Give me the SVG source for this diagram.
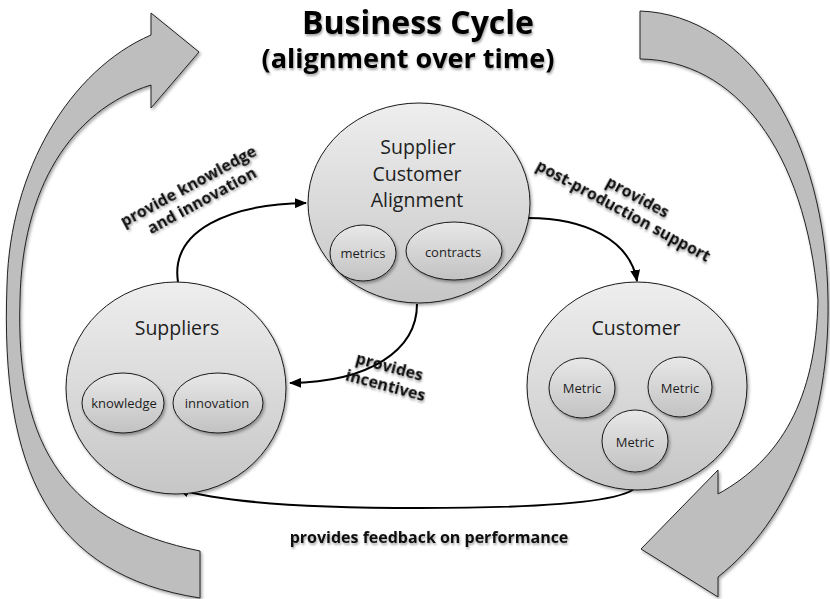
<svg xmlns="http://www.w3.org/2000/svg" width="830" height="599" viewBox="0 0 830 599">
  <defs>
    <linearGradient id="ballFill" x1="0" y1="0" x2="0" y2="1">
      <stop offset="0" stop-color="#eeeeee"/>
      <stop offset="1" stop-color="#c6c6c6"/>
    </linearGradient>
    <linearGradient id="podFill" x1="0" y1="0" x2="0" y2="1">
      <stop offset="0" stop-color="#e8e8e8"/>
      <stop offset="1" stop-color="#c2c2c2"/>
    </linearGradient>
    <filter id="softShadow" x="-20%" y="-20%" width="140%" height="140%">
      <feDropShadow dx="1.5" dy="2" stdDeviation="1.8" flood-color="#000" flood-opacity="0.35"/>
    </filter>
    <filter id="textShadow" x="-10%" y="-30%" width="120%" height="160%">
      <feDropShadow dx="1" dy="2" stdDeviation="1.2" flood-color="#000" flood-opacity="0.35"/>
    </filter>
    <marker id="head" viewBox="0 0 12 10" refX="11" refY="5" markerWidth="12" markerHeight="10" markerUnits="userSpaceOnUse" orient="auto">
      <path d="M0,0 L12,5 L0,10 Z" fill="#000"/>
    </marker>
    <style>
      .ball { fill: url(#ballFill); stroke: #1a1a1a; stroke-width: 1; filter: url(#softShadow); }
      .pod { fill: url(#podFill); stroke: #1a1a1a; stroke-width: 1; filter: url(#softShadow); }
      .sweep { fill: #bebebe; stroke: #222; stroke-width: 1; stroke-linejoin: miter; filter: url(#softShadow); }
      .link { fill: none; stroke: #000; stroke-width: 2; marker-end: url(#head); }
      .name { font-family: "Open Sans", "Liberation Sans", sans-serif; font-size: 19.5px; fill: #1e1e1e; text-anchor: middle; }
      .small { font-family: "Open Sans", "Liberation Sans", sans-serif; font-size: 13px; fill: #1e1e1e; text-anchor: middle; }
      .label { font-family: "Open Sans", "Liberation Sans", sans-serif; font-size: 16px; font-weight: bold; fill: #111; text-anchor: middle; filter: url(#textShadow); }
      .title { font-family: "Open Sans", "Liberation Sans", sans-serif; font-weight: bold; fill: #000; text-anchor: middle; filter: url(#textShadow); }
    </style>
  </defs>

  <!-- big cycle arrows -->
  <g id="cycle-left">
    <path class="sweep" d="M151,35 C70,70 10,170 7,285 C0,470 50,575 200,598 L200,551 C70,525 15,450 20,300 C22,190 70,110 151,85 L151,108 L199,52 L151,13 Z"/>
  </g>
  <g id="cycle-right">
    <path class="sweep" d="M640,11 C750,15 826,140 828,300 C830,420 790,520 718,577 L718,597 L641,549 L718,470 L718,494 C780,460 816,400 818,300 C805,150 735,60 640,59 Z"/>
  </g>

  <!-- title -->
  <g id="title">
    <text class="title" x="418" y="34" font-size="32">Business Cycle</text>
    <text class="title" x="408" y="68" font-size="27">(alignment over time)</text>
  </g>

  <!-- connectors -->
  <g id="connectors">
    <path class="link" d="M178,282 C170,230 230,204 306,203"/>
    <path class="link" d="M528,218 C585,218 630,240 637,281"/>
    <path class="link" d="M417,304 C417,350 370,382 290,383"/>
    <path class="link" d="M637,486 C628,500 560,508 420,508 C300,508 220,502 178,489"/>
  </g>

  <!-- nodes -->
  <g id="alignment">
    <ellipse class="ball" cx="419" cy="203" rx="111" ry="100"/>
    <text class="name" x="418" y="154">Supplier</text>
    <text class="name" x="417" y="181">Customer</text>
    <text class="name" x="417" y="207">Alignment</text>
    <g id="metrics">
      <ellipse class="pod" cx="363" cy="253" rx="33" ry="28"/>
      <text class="small" x="363" y="258">metrics</text>
    </g>
    <g id="contracts">
      <ellipse class="pod" cx="454" cy="251" rx="48" ry="29"/>
      <text class="small" x="453" y="257">contracts</text>
    </g>
  </g>

  <g id="suppliers">
    <ellipse class="ball" cx="176" cy="388" rx="110" ry="106"/>
    <text class="name" x="177" y="335">Suppliers</text>
    <g id="knowledge">
      <ellipse class="pod" cx="123" cy="403" rx="41" ry="30"/>
      <text class="small" x="124" y="408">knowledge</text>
    </g>
    <g id="innovation">
      <ellipse class="pod" cx="218" cy="403" rx="45" ry="30"/>
      <text class="small" x="217" y="408">innovation</text>
    </g>
  </g>

  <g id="customer">
    <ellipse class="ball" cx="637" cy="386" rx="110" ry="104"/>
    <text class="name" x="636" y="335">Customer</text>
    <g id="metric-a">
      <ellipse class="pod" cx="582" cy="388" rx="33" ry="30"/>
      <text class="small" x="582" y="393">Metric</text>
    </g>
    <g id="metric-b">
      <ellipse class="pod" cx="680" cy="387" rx="32" ry="30"/>
      <text class="small" x="680" y="393">Metric</text>
    </g>
    <g id="metric-c">
      <ellipse class="pod" cx="635" cy="441" rx="33" ry="31"/>
      <text class="small" x="635" y="447">Metric</text>
    </g>
  </g>

  <!-- connector labels -->
  <g id="labels">
    <g transform="translate(191,191) rotate(-28.5)">
      <text class="label" x="0" y="0">provide knowledge</text>
      <text class="label" x="5" y="19">and innovation</text>
    </g>
    <g transform="translate(626,206) rotate(28.5)">
      <text class="label" x="6" y="-8">provides</text>
      <text class="label" x="0" y="11">post-production support</text>
    </g>
    <g transform="translate(387,380) rotate(15)">
      <text class="label" x="-1" y="-8" font-size="14">provides</text>
      <text class="label" x="0" y="11" font-size="14">incentives</text>
    </g>
    <text class="label" x="429" y="543">provides feedback on performance</text>
  </g>
</svg>
